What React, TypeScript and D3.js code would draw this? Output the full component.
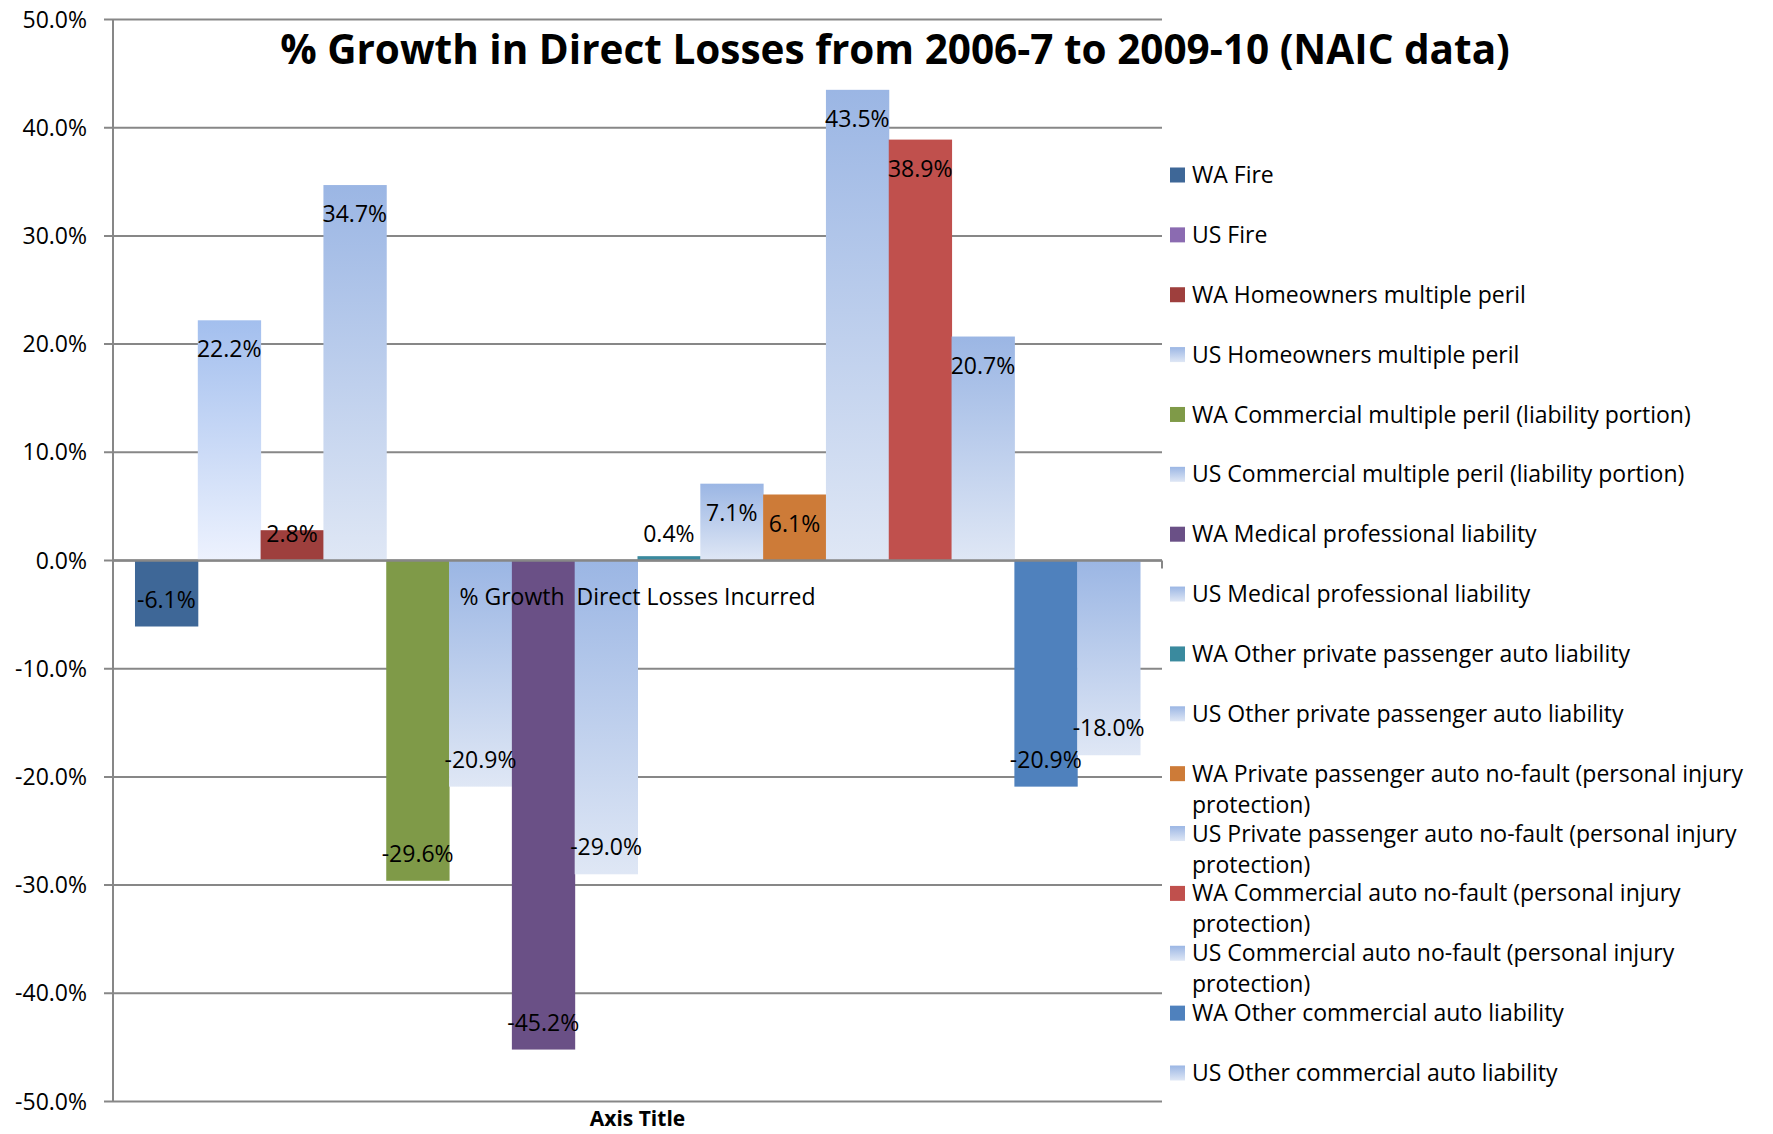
import * as d3 from 'd3';

const categories = ['% Growth  Direct Losses Incurred'];

const seriesNames = [
  'WA Fire',
  'US Fire',
  'WA Homeowners multiple peril',
  'US Homeowners multiple peril',
  'WA Commercial multiple peril (liability portion)',
  'US Commercial multiple peril (liability portion)',
  'WA Medical professional liability',
  'US Medical professional liability',
  'WA Other private passenger auto liability',
  'US Other private passenger auto liability',
  'WA Private passenger auto no-fault (personal injury protection)',
  'US Private passenger auto no-fault (personal injury protection)',
  'WA Commercial auto no-fault (personal injury protection)',
  'US Commercial auto no-fault (personal injury protection)',
  'WA Other commercial auto liability',
  'US Other commercial auto liability',
];

const seriesValues = [
  -6.1, 22.2, 2.8, 34.7, -29.6, -20.9, -45.2, -29.0, 0.4, 7.1, 6.1, 43.5, 38.9, 20.7, -20.9, -18.0,
];

// solid fill for WA series, gradient id for the US ones
const seriesFills = [
  '#3E6797', 'url(#usFireGrad)', '#9E3F3D', 'url(#usGrad)',
  '#7F9A48', 'url(#usGrad)', '#6A5086', 'url(#usGrad)',
  '#3A8A9E', 'url(#usGrad)', '#CD7B38', 'url(#usGrad)',
  '#C0504D', 'url(#usGrad)', '#4F81BD', 'url(#usGrad)',
];
const legendFills = [
  '#3E6797', '#8B6BB1', '#9E3F3D', 'url(#usGrad)',
  '#7F9A48', 'url(#usGrad)', '#6A5086', 'url(#usGrad)',
  '#3A8A9E', 'url(#usGrad)', '#CD7B38', 'url(#usGrad)',
  '#C0504D', 'url(#usGrad)', '#4F81BD', 'url(#usGrad)',
];

const yTickValues = [50, 40, 30, 20, 10, 0, -10, -20, -30, -40, -50];

const W = 1773;
const H = 1134;
const plot = { left: 113, right: 1162, top: 19.5, bottom: 1101.5 };
const FONT = "'Open Sans', 'Noto Sans', sans-serif";
const GRID = '#878787';

function wrapLabel(label: string): string[] {
  if (label.length <= 50) return [label];
  const i = label.lastIndexOf(' ');
  return [label.slice(0, i), label.slice(i + 1)];
}

export default function App() {
  const y = d3.scaleLinear().domain([-50, 50]).range([plot.bottom, plot.top]);
  const cat = d3.scaleBand().domain(categories).range([plot.left, plot.right]);
  const x = d3
    .scaleBand()
    .domain(seriesNames)
    .range([cat(categories[0])!, cat(categories[0])! + cat.bandwidth()])
    .paddingInner(0)
    .paddingOuter(0.35);
  const legendY = d3
    .scalePoint()
    .domain(seriesNames)
    .range([175, 1073]);
  const zero = y(0);
  const fmt = (v: number) => `${v.toFixed(1)}%`;

  return (
    <svg
      width={W}
      height={H}
      style={{ position: 'absolute', left: 0, top: 0, background: '#fff' }}
      fontFamily={FONT}
    >
      <defs>
        <linearGradient id="usGrad" x1="0" y1="0" x2="0" y2="1">
          <stop offset="0" stopColor="#9BB6E4" />
          <stop offset="1" stopColor="#DFE7F5" />
        </linearGradient>
        <linearGradient id="usFireGrad" x1="0" y1="0" x2="0" y2="1">
          <stop offset="0" stopColor="#A3BFEE" />
          <stop offset="1" stopColor="#EDF2FE" />
        </linearGradient>
      </defs>
      <rect width={W} height={H} fill="#fff" />

      {/* gridlines + y ticks */}
      {yTickValues.map((t) => (
        <g key={t}>
          <line x1={plot.left - 9} x2={plot.right} y1={y(t)} y2={y(t)} stroke={GRID} strokeWidth={2} />
          <text x={87} y={y(t)} dy="0.35em" textAnchor="end" fontSize={23} fill="#000">
            {fmt(t)}
          </text>
        </g>
      ))}

      {/* bars */}
      {seriesNames.map((s, i) => {
        const v = seriesValues[i];
        return (
          <rect
            key={s}
            x={x(s)}
            width={x.bandwidth() + 0.5}
            y={Math.min(y(v), zero)}
            height={Math.abs(y(v) - zero)}
            fill={seriesFills[i]}
          />
        );
      })}

      {/* axes */}
      <line x1={plot.left} x2={plot.left} y1={plot.top} y2={plot.bottom} stroke={GRID} strokeWidth={2} />
      <line x1={plot.left} x2={plot.right} y1={zero} y2={zero} stroke={GRID} strokeWidth={2.5} />
      <line x1={plot.left} x2={plot.left} y1={zero} y2={zero + 8} stroke={GRID} strokeWidth={2} />
      <line x1={plot.right} x2={plot.right} y1={zero} y2={zero + 8} stroke={GRID} strokeWidth={2} />

      {/* category label */}
      <text
        x={cat(categories[0])! + cat.bandwidth() / 2}
        y={zero + 36}
        dy="0.35em"
        textAnchor="middle"
        fontSize={23}
        fill="#000"
        style={{ whiteSpace: 'pre' }}
      >
        {categories[0]}
      </text>

      {/* data labels */}
      {seriesNames.map((s, i) => {
        const v = seriesValues[i];
        const cy = v >= 0 ? Math.min(y(v) + 29, zero - 27) : Math.max(y(v) - 27, zero + 27);
        return (
          <text
            key={s}
            x={x(s)! + x.bandwidth() / 2}
            y={cy}
            dy="0.35em"
            textAnchor="middle"
            fontSize={23}
            fill="#000"
          >
            {fmt(v)}
          </text>
        );
      })}

      {/* title */}
      <text x={895} y={64} textAnchor="middle" fontSize={40.5} fontWeight="bold" fill="#000">
        % Growth in Direct Losses from 2006-7 to 2009-10 (NAIC data)
      </text>

      {/* axis title */}
      <text
        x={(plot.left + plot.right) / 2}
        y={1126}
        textAnchor="middle"
        fontSize={21}
        fontWeight="bold"
        fill="#000"
      >
        Axis Title
      </text>

      {/* legend */}
      {seriesNames.map((s, i) => {
        const ly = legendY(s)!;
        const lines = wrapLabel(s);
        return (
          <g key={s}>
            <rect x={1170} y={ly - 7.5} width={15} height={15} fill={legendFills[i]} />
            {lines.map((ln, j) => (
              <text key={j} x={1192} y={ly + j * 31} dy="0.35em" fontSize={23} fill="#000">
                {ln}
              </text>
            ))}
          </g>
        );
      })}
    </svg>
  );
}
